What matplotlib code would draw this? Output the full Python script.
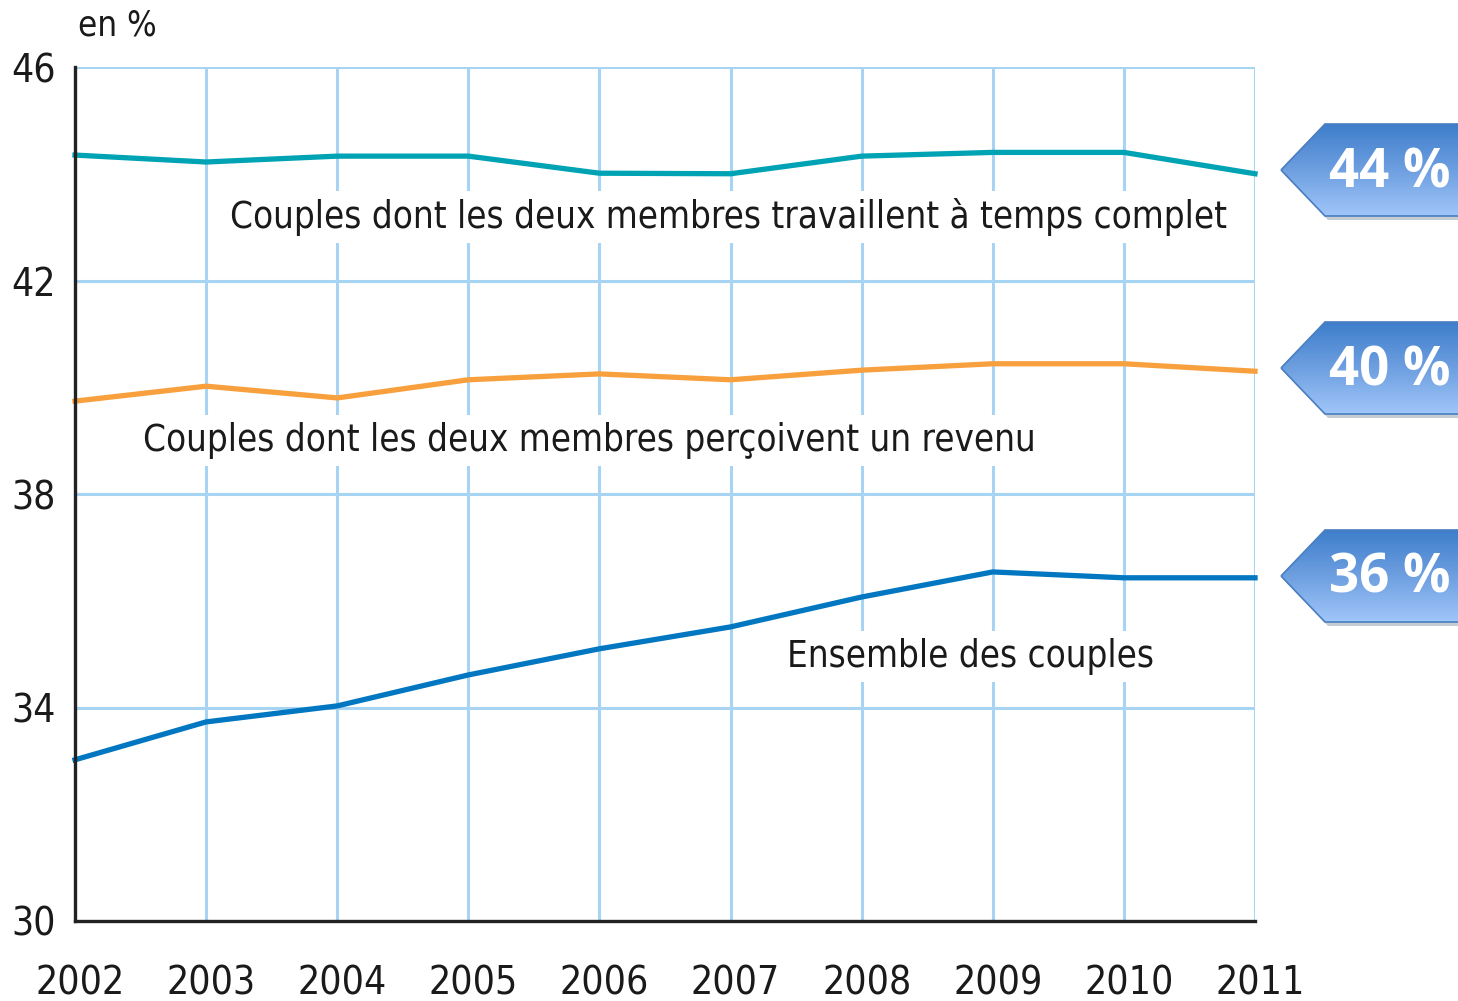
import matplotlib
matplotlib.use("Agg")
import matplotlib.pyplot as plt
import numpy as np
from matplotlib.patches import Polygon
from matplotlib.colors import LinearSegmentedColormap
from matplotlib.transforms import ScaledTranslation

years = [2002, 2003, 2004, 2005, 2006, 2007, 2008, 2009, 2010, 2011]
temps_complet = [44.35, 44.22, 44.33, 44.33, 44.01, 44.0, 44.33, 44.4, 44.4, 44.0]
deux_revenus = [39.74, 40.02, 39.8, 40.14, 40.25, 40.14, 40.32, 40.44, 40.44, 40.3]
ensemble = [33.02, 33.73, 34.03, 34.61, 35.1, 35.51, 36.07, 36.54, 36.43, 36.43]

yticks = [30, 34, 38, 42, 46]
label_top = "Couples dont les deux membres travaillent à temps complet"
label_mid = "Couples dont les deux membres perçoivent un revenu"
label_bot = "Ensemble des couples"
callouts = ["44 %", "40 %", "36 %"]

narrow = ["DejaVu Sans"]
STRETCH = "condensed"

fig = plt.figure(figsize=(14.58, 10.01), dpi=100)
W, H = 1458, 1001
ax = fig.add_axes([75 / W, 1 - 921 / H, 1180 / W, 854 / H])

grid_c = "#A6D4F2"
ax.set_xlim(2002, 2011)
ax.set_ylim(30, 46)
ax.set_xticks(years)
ax.set_yticks(yticks)
ax.grid(True, color=grid_c, lw=2.2, zorder=0)
ax.set_axisbelow(True)
for s in ["top", "right"]:
    ax.spines[s].set_visible(False)
for s in ["left", "bottom"]:
    ax.spines[s].set_color("#222222")
    ax.spines[s].set_linewidth(2.4)
    ax.spines[s].set_zorder(5)
ax.tick_params(length=0, labelsize=28, pad=14)
ax.tick_params(axis="x", pad=31)
shift = ScaledTranslation(5 / 100, 0, fig.dpi_scale_trans)
for lab in ax.get_xticklabels() + ax.get_yticklabels():
    lab.set_family(narrow)
    lab.set_stretch(STRETCH)
    lab.set_color("#1a1a1a")
for lab in ax.get_xticklabels():
    lab.set_transform(lab.get_transform() + shift)

ax.plot(years, temps_complet, color="#00A3B4", lw=3.8, zorder=3, clip_on=False)
ax.plot(years, deux_revenus, color="#F8A03E", lw=3.8, zorder=3, clip_on=False)
ax.plot(years, ensemble, color="#0077C0", lw=3.8, zorder=3, clip_on=False)

bbox = dict(facecolor="white", edgecolor="none", pad=5)
ax.text(2003.18, 43.19, label_top, family=narrow, stretch=STRETCH, fontsize=26.3, va="center",
        ha="left", color="#1a1a1a", bbox=bbox, zorder=2)
ax.text(2002.52, 39.01, label_mid, family=narrow, stretch=STRETCH, fontsize=26.3, va="center",
        ha="left", color="#1a1a1a", bbox=bbox, zorder=2)
ax.text(2007.43, 34.95, label_bot, family=narrow, stretch=STRETCH, fontsize=26.3, va="center",
        ha="left", color="#1a1a1a", bbox=bbox, zorder=2)

fig.text(78 / W, 1 - 26 / H, "en %", family=narrow, stretch=STRETCH, fontsize=25,
         va="center", ha="left", color="#1a1a1a")

# callouts
centers = [170, 368, 576]
cmap = LinearSegmentedColormap.from_list("g", ["#3E7ECB", "#6E9FE0", "#A0C6FA"])
for txt, cy in zip(callouts, centers):
    h = 92
    cax = fig.add_axes([1276 / W, 1 - (cy + h / 2 + 6) / H, (W - 1276) / W, (h + 12) / H])
    cax.set_xlim(1276, W)
    cax.set_ylim(cy + h / 2 + 6, cy - h / 2 - 6)
    cax.axis("off")
    tip = 1281
    corner = 1325
    top = cy - h / 2
    bot = cy + h / 2
    pts = [(tip, cy), (corner, top), (W + 5, top), (W + 5, bot), (corner, bot)]
    shadow = Polygon([(x + 3, y + 4) for x, y in pts], closed=True, facecolor="#7f8ea0",
                     edgecolor="none", alpha=0.45, zorder=1)
    cax.add_patch(shadow)
    poly = Polygon(pts, closed=True, facecolor="none", edgecolor="#4A7EC0", lw=1.2, zorder=3)
    cax.add_patch(poly)
    grad = np.linspace(0, 1, 256).reshape(-1, 1)
    im = cax.imshow(grad, cmap=cmap, aspect="auto", extent=[tip, W + 5, bot, top],
                    zorder=2, origin="upper")
    im.set_clip_path(poly)
    cax.text(1390, cy + 3, txt, color="white", fontsize=38, fontweight="bold",
             family=["Open Sans", "DejaVu Sans"], ha="center", va="center", zorder=4)

fig.savefig("out.png", dpi=100)
